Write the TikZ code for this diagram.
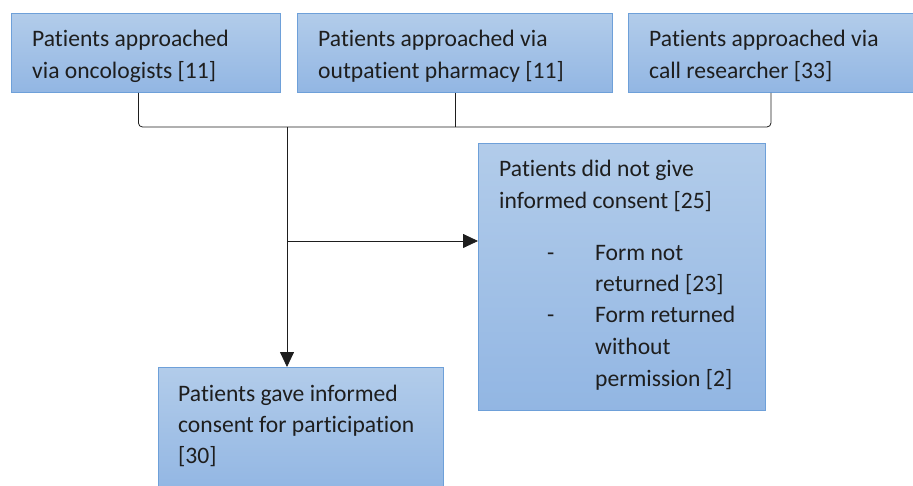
\documentclass[tikz,border=0pt]{standalone}
\usepackage{fontspec}
\setmainfont{Carlito}[Ligatures={NoCommon}]
\usetikzlibrary{arrows.meta}
\definecolor{boxtop}{RGB}{178,204,234}
\definecolor{boxbot}{RGB}{146,182,227}
\definecolor{boxline}{RGB}{110,160,217}
\definecolor{ink}{RGB}{30,30,30}
\begin{document}
\begin{tikzpicture}[x=1pt,y=-1pt,
  box/.style={draw=boxline, line width=0.9pt, top color=boxtop, bottom color=boxbot, inner sep=0pt, anchor=north west},
  conn/.style={draw=ink, line width=0.8pt},
  arr/.style={conn, -{Triangle[length=15pt,width=14pt]}},
  tx/.style={anchor=base west, inner sep=0pt, font=\fontsize{23.6}{28}\selectfont, text=ink}]
\useasboundingbox (0,0) rectangle (913,486);
\clip (0,0) rectangle (913,486);
% boxes
\node[box, minimum width=269pt, minimum height=79pt] (b1) at (11,13) {};
\node[box, minimum width=315pt, minimum height=79pt] (b2) at (297,13) {};
\node[box, minimum width=285pt, minimum height=79pt] (b3) at (628,13) {};
\node[box, minimum width=287pt, minimum height=267pt] (bn) at (478,143) {};
\node[box, minimum width=285pt, minimum height=125pt] (bg) at (158,367) {};
% texts
\node[tx] (t1a) at (32,47) {Patients approached};
\node[tx] (t1b) at (32,79) {via oncologists [11]};
\node[tx] (t2a) at (318,47) {Patients approached via};
\node[tx] (t2b) at (318,79) {outpatient pharmacy [11]};
\node[tx] (t3a) at (649,47) {Patients approached via};
\node[tx] (t3b) at (649,79) {call researcher [33]};
\node[tx] (tna) at (499,177) {Patients did not give};
\node[tx] (tnb) at (499,209) {informed consent [25]};
\node[tx] (d1) at (547,261) {-};
\node[tx] (tnc) at (595,261) {Form not};
\node[tx] (tnd) at (595,292) {returned [23]};
\node[tx] (d2) at (547,323) {-};
\node[tx] (tne) at (595,323) {Form returned};
\node[tx] (tnf) at (595,354) {without};
\node[tx] (tng) at (595,386) {permission [2]};
\node[tx] (tga) at (178,401) {Patients gave informed};
\node[tx] (tgb) at (178,432) {consent for participation};
\node[tx] (tgc) at (178,463) {[30]};
% connectors
\coordinate (j) at (287,127);
\coordinate (k) at (287,241);
\draw[conn, rounded corners=4pt] ([xshift=-7.5pt]b1.south) |- (b3.south |- j) -- (b3.south);
\draw[conn] (b2.south) -- (b2.south |- j);
\draw[arr] (j) -- (j |- bg.north);
\draw[arr] (k) -- (k -| bn.west);
\end{tikzpicture}
\end{document}
